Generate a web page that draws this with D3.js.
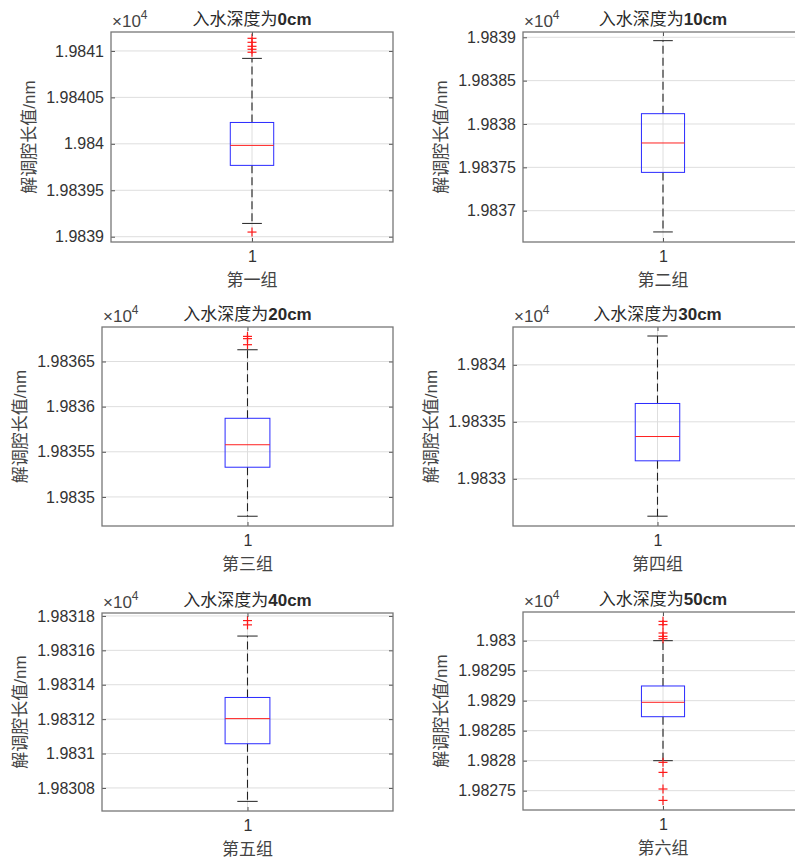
<!DOCTYPE html>
<html>
<head>
<meta charset="utf-8">
<script src="https://cdn.jsdelivr.net/npm/d3@7"></script>
<style>
  body { margin: 0; background: #fff; }
  svg { display: block; }
  text { font-family: "Liberation Sans", Arial, "Noto Sans CJK SC", sans-serif; }
</style>
</head>
<body>
<div id="chart"></div>
<script>
// one entry per group (panel), values in units of 10^4 nm
const titles = ["入水深度为", "入水深度为", "入水深度为", "入水深度为", "入水深度为", "入水深度为"];
const depths = ["0cm", "10cm", "20cm", "30cm", "40cm", "50cm"];
const groupNames = ["第一组", "第二组", "第三组", "第四组", "第五组", "第六组"];
const yLabel = "解调腔长值/nm";

const q1 = [1.9839768, 1.9837442, 1.9835329, 1.9833158, 1.9831057, 1.9828733];
const medians = [1.9839983, 1.9837781, 1.9835578, 1.9833371, 1.9831203, 1.9828973];
const q3 = [1.9840230, 1.9838119, 1.9835871, 1.9833661, 1.9831326, 1.9829245];
const whiskerLow = [1.9839143, 1.9836755, 1.9834786, 1.9832672, 1.9830722, 1.9828000];
const whiskerHigh = [1.9840920, 1.9838961, 1.9836630, 1.9834253, 1.9831683, 1.9830000];
const outliers = [
  [1.9841136, 1.9841093, 1.9841050, 1.9841018, 1.9840986, 1.9839050],
  [],
  [1.9836778, 1.9836753, 1.9836686],
  [],
  [1.9831773, 1.9831748],
  [1.9830322, 1.9830267, 1.9830128, 1.9830072, 1.9830033, 1.9827972, 1.9827805, 1.9827528, 1.9827338]
];

const yDomains = [
  [1.9838943, 1.9841204],
  [1.9836639, 1.9839061],
  [1.9834678, 1.9836882],
  [1.9832586, 1.9834332],
  [1.9830666, 1.9831817],
  [1.9827178, 1.9830478]
];
const yTickLabels = [
  ["1.9839", "1.98395", "1.984", "1.98405", "1.9841"],
  ["1.9837", "1.98375", "1.9838", "1.98385", "1.9839"],
  ["1.9835", "1.98355", "1.9836", "1.98365"],
  ["1.9833", "1.98335", "1.9834"],
  ["1.98308", "1.9831", "1.98312", "1.98314", "1.98316", "1.98318"],
  ["1.98275", "1.9828", "1.98285", "1.9829", "1.98295", "1.983"]
];

// axes rectangles [left, right, top, bottom]
const boxes = [
  [111, 393, 32, 242],
  [523, 803, 32, 242],
  [102, 393, 327, 526],
  [513, 802, 327, 526],
  [102, 393, 613, 811],
  [523, 803, 612, 810]
];

const width = 795, height = 859;

const svg = d3.select("#chart")
  .append("svg")
  .attr("width", width)
  .attr("height", height);

svg.append("rect")
  .attr("width", width)
  .attr("height", height)
  .attr("fill", "#fff");

function drawPanel(i) {
  const [left, right, top, bottom] = boxes[i];

  const x = d3.scaleLinear().domain([0.5, 1.5]).range([left, right]);
  const y = d3.scaleLinear().domain(yDomains[i]).range([bottom, top]);
  const tickVals = yTickLabels[i].map(Number);

  const g = svg.append("g");

  // grid
  g.selectAll(".grid-y")
    .data(tickVals)
    .join("line")
    .attr("x1", left).attr("x2", right)
    .attr("y1", d => y(d)).attr("y2", d => y(d))
    .attr("stroke", "#dedede")
    .attr("stroke-width", 1);

  g.append("line")
    .attr("x1", x(1)).attr("x2", x(1))
    .attr("y1", top).attr("y2", bottom)
    .attr("stroke", "#dedede")
    .attr("stroke-width", 1);

  // whiskers
  const capHalf = 0.035, boxHalf = 0.077;
  g.append("line")
    .attr("x1", x(1)).attr("x2", x(1))
    .attr("y1", y(q3[i])).attr("y2", y(whiskerHigh[i]))
    .attr("stroke", "#222").attr("stroke-width", 1.1).attr("stroke-dasharray", "8,4");
  g.append("line")
    .attr("x1", x(1)).attr("x2", x(1))
    .attr("y1", y(q1[i])).attr("y2", y(whiskerLow[i]))
    .attr("stroke", "#222").attr("stroke-width", 1.1).attr("stroke-dasharray", "8,4");

  g.selectAll(".cap")
    .data([whiskerHigh[i], whiskerLow[i]])
    .join("line")
    .attr("x1", x(1 - capHalf)).attr("x2", x(1 + capHalf))
    .attr("y1", d => y(d)).attr("y2", d => y(d))
    .attr("stroke", "#222");

  // box + median
  g.append("rect")
    .attr("x", x(1 - boxHalf))
    .attr("width", x(1 + boxHalf) - x(1 - boxHalf))
    .attr("y", y(q3[i]))
    .attr("height", y(q1[i]) - y(q3[i]))
    .attr("fill", "none")
    .attr("stroke", "#2a2aff")
    .attr("stroke-width", 1);

  g.append("line")
    .attr("x1", x(1 - boxHalf)).attr("x2", x(1 + boxHalf))
    .attr("y1", y(medians[i])).attr("y2", y(medians[i]))
    .attr("stroke", "#ff2020");

  // outliers
  const plus = g.selectAll(".outlier")
    .data(outliers[i])
    .join("g")
    .attr("transform", d => `translate(${x(1)},${y(d)})`)
    .attr("stroke", "#ff1a1a")
    .attr("stroke-width", 1.2);
  plus.append("line").attr("x1", -4.5).attr("x2", 4.5);
  plus.append("line").attr("y1", -4.5).attr("y2", 4.5);

  // axes
  const yAxis = g.append("g")
    .attr("transform", `translate(${left},0)`)
    .call(d3.axisLeft(y)
      .tickValues(tickVals)
      .tickFormat((d, k) => yTickLabels[i][k])
      .tickSizeInner(-4)
      .tickSizeOuter(0)
      .tickPadding(7));
  const yAxisR = g.append("g")
    .attr("transform", `translate(${right},0)`)
    .call(d3.axisRight(y)
      .tickValues(tickVals)
      .tickFormat("")
      .tickSizeInner(-4)
      .tickSizeOuter(0));
  const xAxis = g.append("g")
    .attr("transform", `translate(0,${bottom})`)
    .call(d3.axisBottom(x)
      .tickValues([1])
      .tickFormat(d3.format("d"))
      .tickSizeInner(-4)
      .tickSizeOuter(0)
      .tickPadding(9));
  const xAxisT = g.append("g")
    .attr("transform", `translate(0,${top})`)
    .call(d3.axisTop(x)
      .tickValues([1])
      .tickFormat("")
      .tickSizeInner(-4)
      .tickSizeOuter(0));

  [yAxis, yAxisR, xAxis, xAxisT].forEach(a => {
    a.select(".domain").remove();
    a.selectAll(".tick line").attr("stroke", "#555");
    a.selectAll("text")
      .style("font-size", "16px")
      .attr("fill", "#333")
      .style("font-family", "'Liberation Sans', Arial, sans-serif");
  });

  g.append("rect")
    .attr("x", left).attr("y", top)
    .attr("width", right - left).attr("height", bottom - top)
    .attr("fill", "none")
    .attr("stroke", "#777")
    .attr("stroke-width", 1.3);

  // labels
  const t = g.append("text")
    .attr("x", (left + right) / 2)
    .attr("y", top - 7)
    .attr("text-anchor", "middle")
    .style("font-size", "17px")
    .attr("fill", "#2a2a2a");
  t.append("tspan").text(titles[i]);
  t.append("tspan").style("font-weight", "bold").text(depths[i]);

  const exp = g.append("text")
    .attr("x", left + 1)
    .attr("y", top - 5)
    .attr("fill", "#444");
  exp.append("tspan").style("font-size", "17px").text("×10");
  exp.append("tspan").attr("dy", -8).style("font-size", "12px").text("4");

  g.append("text")
    .attr("transform", `translate(${left - 82},${(top + bottom) / 2}) rotate(-90)`)
    .attr("text-anchor", "middle")
    .attr("dominant-baseline", "central")
    .style("font-size", "17px")
    .attr("fill", "#444")
    .text(yLabel);

  g.append("text")
    .attr("x", x(1))
    .attr("y", bottom + 44)
    .attr("text-anchor", "middle")
    .style("font-size", "17px")
    .attr("fill", "#444")
    .text(groupNames[i]);
}

d3.range(6).forEach(drawPanel);
</script>
</body>
</html>
